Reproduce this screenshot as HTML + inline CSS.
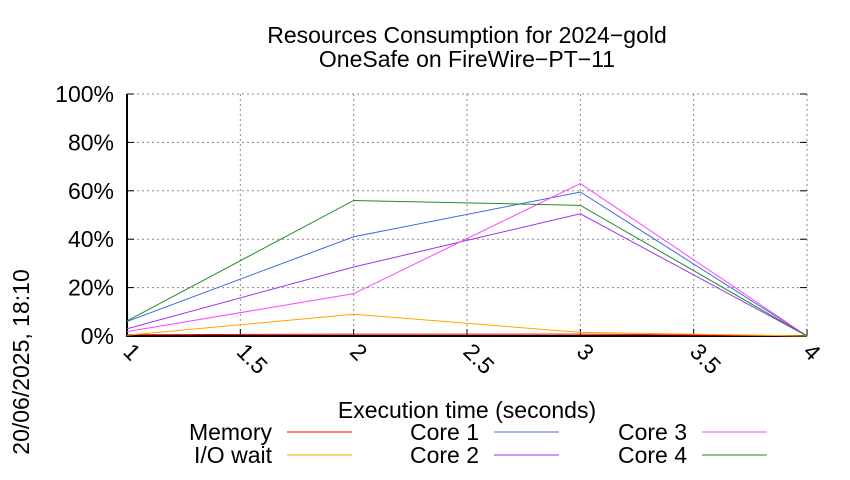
<!DOCTYPE html>
<html><head><meta charset="utf-8"><style>body{margin:0;background:#fff}svg{font-family:"Liberation Sans",sans-serif}</style></head><body>
<svg id="c" width="850" height="475"></svg>
<script>
const xVals=[1,2,3,4];
const seriesNames=["Memory","I/O wait","Core 1","Core 2","Core 3","Core 4"];
const memory=[0.5,0.8,0.8,0];
const iowait=[0.3,9,1.5,0];
const core1=[6,41,59.5,0];
const core2=[3,28.5,50.5,0];
const core3=[1.8,17.5,63,0];
const core4=[6.2,56,54,0];
const xTicks=["1","1.5","2","2.5","3","3.5","4"];
const yTicks=[0,20,40,60,80,100];
const colors=["#ff0000","#ffa500","#4169e1","#9932f0","#ff44ff","#228b22"];
const NS="http://www.w3.org/2000/svg";
const svg=document.getElementById('c');
const X0=127,X1=807,Y0=336,Y1=94,FS=23;
const sx=v=>X0+(v-1)/3*(X1-X0);
const sy=v=>Y0-v/100*(Y0-Y1);
function el(t,a,p){const e=document.createElementNS(NS,t);for(const k in a)e.setAttribute(k,a[k]);(p||svg).appendChild(e);return e;}
let t=el('text',{x:467,y:43,'text-anchor':'middle','font-size':FS});


t.textContent="Resources Consumption for 2024\u2212gold";
t=el('text',{x:467,y:67,'text-anchor':'middle','font-size':FS});


t.textContent="OneSafe on FireWire\u2212PT\u221211";
xTicks.forEach(s=>{const v=parseFloat(s);const x=sx(v);
 const g=el('line',{x1:x,x2:x,y1:Y0,y2:Y1,stroke:'#888','stroke-dasharray':'2,3','stroke-width':1});
 
 
 el('line',{x1:x,x2:x,y1:Y0,y2:Y0-7,stroke:'#000'});
 const l=el('text',{x:x-5,y:Y0+17,'font-size':FS,transform:`rotate(45 ${x-5} ${Y0+17})`});
 
 
 l.textContent=s;});
yTicks.forEach(v=>{const y=sy(v);
 const g=el('line',{x1:X0,x2:X1,y1:y,y2:y,stroke:'#888','stroke-dasharray':'2,3','stroke-width':1});
 
 
 el('line',{x1:X0,x2:X0+7,y1:y,y2:y,stroke:'#000'});
 el('line',{x1:X1,x2:X1-7,y1:y,y2:y,stroke:'#000'});
 const l=el('text',{x:X0-13,y:y+8,'text-anchor':'end','font-size':FS});
 
 
 l.textContent=v+"%";});
el('path',{d:`M${X0} ${Y1}V${Y0}H${X1}`,fill:'none',stroke:'#000','stroke-width':2});
const data=[memory,iowait,core1,core2,core3,core4];
data.forEach((arr,i)=>{
 const p=el('polyline',{points:arr.map((v,j)=>sx(xVals[j])+","+sy(v)).join(" "),fill:'none',stroke:colors[i],'stroke-width':1});
 
 
});
t=el('text',{x:467,y:418,'text-anchor':'middle','font-size':FS});


t.textContent="Execution time (seconds)";
t=el('text',{x:0,y:0,'text-anchor':'middle','font-size':FS,transform:'translate(29 362) rotate(-90)'});


t.textContent="20/06/2025, 18:10";
const lx=[272,479,687],ly=[432,455];
seriesNames.forEach((n,i)=>{const c=Math.floor(i/2),r=i%2;
 const g=el('g',{});
 
 
 const tx=el('text',{x:lx[c],y:ly[r]+8,'text-anchor':'end','font-size':FS},g);tx.textContent=n;
 el('line',{x1:lx[c]+15,x2:lx[c]+80,y1:ly[r],y2:ly[r],stroke:colors[i]},g);
});
</script>
</body></html>
